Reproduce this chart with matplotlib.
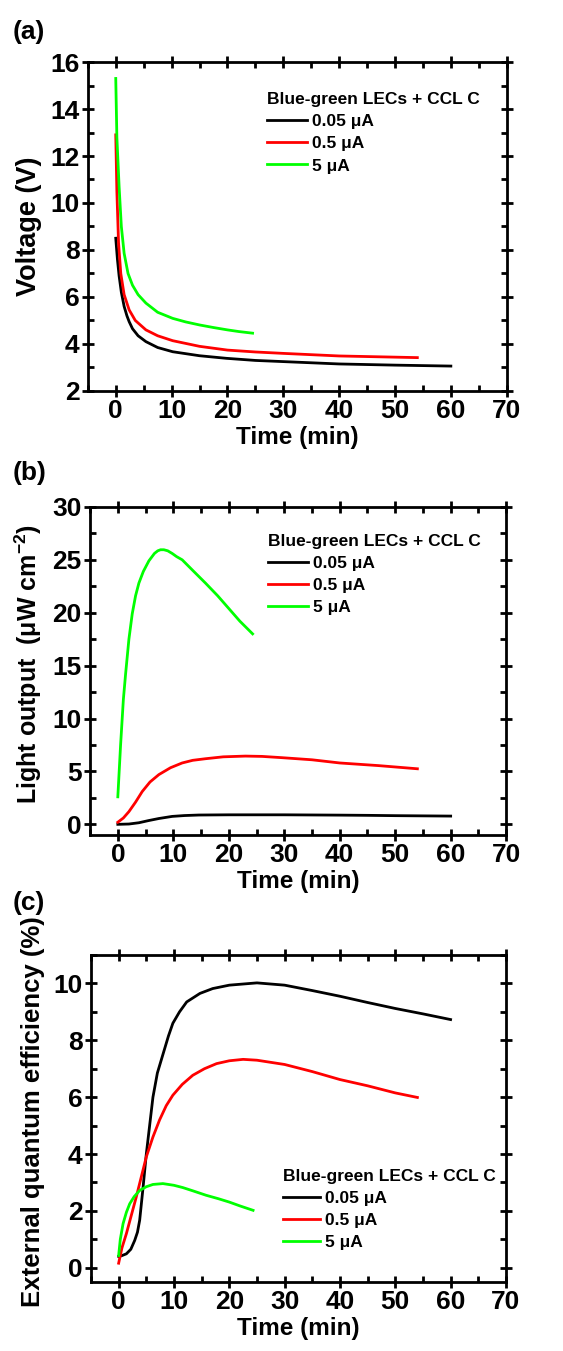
import numpy as np
import matplotlib
matplotlib.use('Agg')
import matplotlib.pyplot as plt
from matplotlib.ticker import MultipleLocator

plt.rcParams['font.family'] = ['Liberation Sans', 'DejaVu Sans']
plt.rcParams['font.weight'] = 'bold'
plt.rcParams['mathtext.fontset'] = 'custom'
plt.rcParams['mathtext.rm'] = 'Liberation Sans:bold'
plt.rcParams['mathtext.bf'] = 'Liberation Sans:bold'
plt.rcParams['mathtext.default'] = 'bf'

legend_title = 'Blue-green LECs + CCL C'
labels = ['0.05 μA', '0.5 μA', '5 μA']
colors = ['#000000', '#ff0000', '#00ff00']

# (a) voltage (V) vs time (min)
va_t_black = [0, 0.3, 0.6, 1.0, 1.5, 2.0, 2.4, 3.0, 4.0, 5.4, 7.5, 10.2, 15, 19.8, 25, 30, 35, 40, 50, 60]
va_v_black = [8.5, 7.6, 6.9, 6.2, 5.6, 5.2, 4.95, 4.65, 4.35, 4.1, 3.85, 3.67, 3.5, 3.39, 3.3, 3.25, 3.2, 3.15, 3.1, 3.06]
va_t_red = [0, 0.2, 0.5, 0.9, 1.5, 2.4, 3.5, 5.4, 7.5, 10.2, 15, 20, 25, 30, 40, 50, 54]
va_v_red = [12.9, 10.5, 8.3, 7.0, 6.1, 5.45, 5.0, 4.6, 4.35, 4.14, 3.9, 3.74, 3.66, 3.6, 3.49, 3.44, 3.42]
va_t_green = [0, 0.2, 0.6, 1.0, 1.5, 2.2, 3.0, 4.0, 5.4, 7.5, 10.2, 12.5, 15, 17.5, 20, 22, 24.5]
va_v_green = [15.3, 12.8, 10.7, 9.0, 7.86, 7.0, 6.5, 6.1, 5.74, 5.35, 5.09, 4.94, 4.81, 4.7, 4.6, 4.53, 4.46]

# (b) light output (uW cm^-2) vs time (min)
lb_t_black = [0, 2, 3.8, 5.5, 7.4, 9.8, 12, 14.6, 20, 30, 40, 45, 50, 60]
lb_l_black = [0.0, 0.03, 0.15, 0.35, 0.55, 0.75, 0.83, 0.88, 0.9, 0.9, 0.87, 0.85, 0.82, 0.78]
lb_t_red = [0, 1, 2, 3.2, 4.4, 5.8, 7.4, 9.5, 11.6, 13.5, 15.8, 19, 23, 26, 29.6, 35, 40, 47, 54]
lb_l_red = [0.2, 0.6, 1.2, 2.1, 3.1, 4.0, 4.7, 5.35, 5.8, 6.05, 6.2, 6.38, 6.45, 6.42, 6.3, 6.1, 5.8, 5.55, 5.25]
lb_t_green = [0, 0.5, 1.0, 1.4, 2.0, 2.6, 3.2, 3.8, 4.6, 5.6, 6.6, 7.2, 7.7, 8.3, 9.0, 9.8, 10.6, 11.6, 13.5, 15.8, 18, 20, 22, 24.3]
lb_l_green = [2.6, 7.5, 11.8, 14.2, 17.5, 19.9, 21.6, 22.8, 23.9, 24.9, 25.6, 25.85, 25.95, 25.95, 25.85, 25.6, 25.3, 25.0, 24.0, 22.8, 21.6, 20.4, 19.2, 18.0]

# (c) external quantum efficiency (%) vs time (min)
ec_t_black = [0, 0.5, 1.4, 2.2, 2.9, 3.4, 3.8, 4.4, 5.0, 5.6, 6.2, 7.0, 8.0, 9.0, 9.8, 11, 12.3, 14.7, 17, 20, 25, 30, 35, 40, 45, 50, 55, 60]
ec_e_black = [0.4, 0.42, 0.49, 0.65, 0.96, 1.25, 1.67, 2.8, 4.0, 5.0, 6.0, 6.85, 7.5, 8.15, 8.6, 9.0, 9.35, 9.65, 9.82, 9.94, 10.02, 9.94, 9.75, 9.55, 9.33, 9.12, 8.93, 8.73]
ec_t_red = [0, 0.6, 1.4, 2.3, 3.2, 4.1, 5.0, 6.2, 7.4, 8.6, 9.8, 11.5, 13.4, 15.5, 17.7, 20, 22.5, 25, 30, 35, 40, 45, 50, 54]
ec_e_red = [0.16, 0.7, 1.2, 1.85, 2.5, 3.2, 3.9, 4.6, 5.2, 5.7, 6.07, 6.45, 6.77, 7.0, 7.18, 7.28, 7.33, 7.3, 7.15, 6.9, 6.62, 6.4, 6.15, 5.99]
ec_t_green = [0, 0.3, 0.8, 1.4, 2.0, 2.8, 3.8, 5.0, 6.2, 8.0, 10, 11.6, 13.5, 15.8, 18, 20, 22, 24.3]
ec_e_green = [0.43, 1.0, 1.55, 1.95, 2.25, 2.5, 2.72, 2.85, 2.93, 2.96, 2.9, 2.82, 2.7, 2.55, 2.43, 2.31, 2.17, 2.02]

panels = [
    dict(pos=[0.156, 0.7106, 0.744, 0.2435], tag='(a)', tag_y=1 - 32 / 1351,
         series=[(va_t_black, va_v_black), (va_t_red, va_v_red), (va_t_green, va_v_green)],
         ylim=(2, 16), major=2, minor=1, ylabel='Voltage (V)', ylsize=19.5, yly=0.5,
         leg=(0.427, 0.908), hl=2.3),
    dict(pos=[0.160, 0.382, 0.739, 0.2428], tag='(b)', tag_y=1 - 473 / 1351,
         series=[(lb_t_black, lb_l_black), (lb_t_red, lb_l_red), (lb_t_green, lb_l_green)],
         ylim=(-1, 30), major=5, minor=2.5, ylabel='Light output  (μW cm$^{-2}$)', ylsize=18, yly=0.52,
         leg=(0.428, 0.918), hl=2.3),
    dict(pos=[0.1616, 0.0511, 0.737, 0.242], tag='(c)', tag_y=1 - 903 / 1351,
         series=[(ec_t_black, ec_e_black), (ec_t_red, ec_e_red), (ec_t_green, ec_e_green)],
         ylim=(-0.5, 11), major=2, minor=1, ylabel='External quantum efficiency (%)', ylsize=18.5, yly=0.52,
         leg=(0.463, 0.345), hl=2.1),
]

fig = plt.figure(figsize=(5.63, 13.51), dpi=100)

for p in panels:
    ax = fig.add_axes(p['pos'])
    for (t, y), c, lab in zip(p['series'], colors, labels):
        ax.plot(t, y, color=c, lw=2.0, label=lab)
    ax.set_xlim(-5, 70)
    ax.set_ylim(*p['ylim'])
    ax.xaxis.set_major_locator(MultipleLocator(10))
    ax.xaxis.set_minor_locator(MultipleLocator(5))
    ax.yaxis.set_major_locator(MultipleLocator(p['major']))
    ax.yaxis.set_minor_locator(MultipleLocator(p['minor']))
    for s in ax.spines.values():
        s.set_linewidth(2.0)
    ax.tick_params(which='major', direction='inout', length=8, width=2, labelsize=19, pad=2)
    ax.tick_params(which='minor', direction='in', length=4, width=2)
    ax.tick_params(which='both', top=True, right=True)
    for lbl in ax.get_xticklabels() + ax.get_yticklabels():
        lbl.set_fontweight('bold')
    ax.set_xlabel('Time (min)', fontsize=17.5, fontweight='bold', labelpad=2)
    ax.set_ylabel(p['ylabel'], fontsize=p['ylsize'], fontweight='bold')
    ax.yaxis.set_label_coords(-0.11, p['yly'])
    leg = ax.legend(title=legend_title, loc='upper left', bbox_to_anchor=p['leg'],
                    frameon=False, fontsize=12.5, title_fontsize=12.5, borderpad=0,
                    borderaxespad=0, handlelength=p['hl'], handletextpad=0.3,
                    labelspacing=0.4, alignment='left')
    leg.get_title().set_fontweight('bold')
    for txt in leg.get_texts():
        txt.set_fontweight('bold')
    fig.text(13 / 563, p['tag_y'], p['tag'], fontsize=19, fontweight='bold', va='center')

fig.savefig('out.png', dpi=100)
